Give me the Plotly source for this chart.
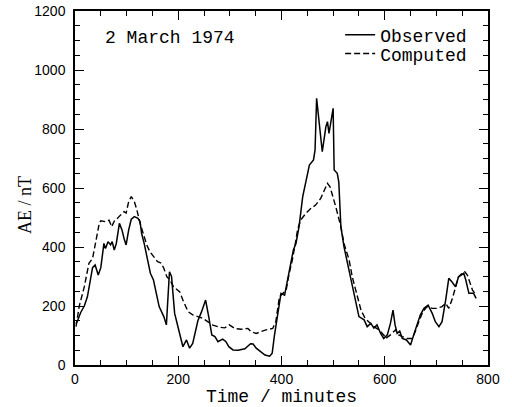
import plotly.graph_objects as go

# Observed AE index (nT) against time (minutes), 2 March 1974
t_obs = [2, 5, 11, 18, 24, 30, 34, 39, 45, 50, 56, 59, 64, 69, 72, 76, 80, 86, 91, 95,
         99, 104, 109, 115, 122, 126, 129, 134, 141, 146, 152, 159, 163, 172, 177, 183,
         187, 193, 199, 203, 209, 216, 222, 228, 238, 245, 253, 259, 265, 271, 277, 286,
         292, 298, 306, 316, 329, 340, 345, 351, 360, 368, 377, 382, 386, 391, 396, 399,
         406, 412, 418, 423, 428, 434, 441, 454, 462, 465, 468, 473, 479, 486, 489, 492,
         496, 500, 502, 508, 511, 515, 521, 525, 531, 537, 544, 550, 560, 566, 573, 579,
         585, 592, 598, 605, 611, 616, 620, 624, 629, 634, 642, 650, 656, 663, 669, 676,
         684, 692, 698, 705, 711, 718, 724, 730, 737, 743, 753, 757, 763, 772, 777]
ae_obs = [140, 150, 178, 200, 231, 288, 330, 339, 305, 330, 412, 395, 418, 407, 418, 390,
          412, 480, 458, 429, 407, 458, 494, 503, 497, 486, 446, 412, 356, 311, 288, 231,
          198, 164, 136, 316, 300, 175, 130, 96, 62, 85, 57, 73, 150, 180, 220, 164, 102,
          96, 79, 88, 80, 62, 51, 50, 55, 72, 71, 57, 46, 34, 30, 40, 96, 153, 220, 243,
          237, 288, 345, 390, 412, 469, 570, 678, 695, 729, 904, 831, 723, 808, 825, 785,
          830, 870, 661, 650, 620, 469, 401, 367, 322, 277, 209, 164, 153, 130, 141, 125,
          136, 107, 90, 102, 141, 186, 136, 107, 115, 90, 85, 68, 102, 136, 170, 192, 203,
          175, 147, 130, 147, 220, 294, 282, 265, 299, 311, 288, 243, 243, 226]

# Computed AE index (nT)
t_comp = [2, 8, 18, 27, 34, 40, 47, 50, 59, 66, 71, 77, 82, 88, 95, 99, 104, 109, 115,
          120, 126, 133, 139, 145, 154, 160, 167, 172, 178, 184, 191, 200, 203, 209, 219,
          228, 238, 248, 257, 267, 280, 290, 299, 309, 322, 335, 341, 351, 360, 370, 383,
          389, 396, 402, 409, 415, 421, 428, 431, 437, 447, 457, 466, 476, 483, 489, 494,
          499, 505, 510, 515, 521, 531, 537, 547, 554, 562, 569, 579, 589, 598, 602, 611,
          621, 627, 634, 643, 653, 659, 666, 674, 682, 692, 701, 711, 718, 724, 730, 737,
          743, 750, 755, 760, 765, 770, 777]
ae_comp = [130, 198, 265, 345, 361, 412, 480, 489, 486, 491, 469, 491, 497, 508, 520, 515,
           554, 571, 554, 525, 480, 441, 407, 384, 361, 350, 345, 328, 299, 288, 265, 254,
           248, 220, 181, 170, 164, 158, 147, 135, 128, 126, 136, 124, 121, 124, 113, 107,
           113, 119, 124, 147, 231, 243, 254, 311, 356, 424, 458, 491, 514, 531, 542, 565,
           593, 616, 604, 576, 537, 503, 469, 412, 356, 299, 231, 186, 158, 147, 130, 119,
           102, 90, 102, 119, 102, 96, 90, 90, 113, 147, 181, 198, 192, 192, 198, 209, 192,
           220, 265, 299, 311, 316, 305, 277, 254, 237]

mono = "Liberation Mono, Courier New, monospace"
sans = "Liberation Sans, Arial, sans-serif"
serif = "Liberation Serif, Times New Roman, serif"

fig = go.Figure()
fig.add_trace(go.Scatter(x=t_obs, y=ae_obs, mode="lines", name="Observed",
                         legend="legend", line=dict(color="black", width=1.5)))
fig.add_trace(go.Scatter(x=t_comp, y=ae_comp, mode="lines", name="Computed",
                         legend="legend2", line=dict(color="black", width=1.4, dash="6px,3px")))

axis_common = dict(
    showline=True, linecolor="black", linewidth=1.5, mirror="ticks",
    ticks="inside", ticklen=9, tickwidth=1.3, tickcolor="black",
    showgrid=False, zeroline=False, automargin=False,
    tickfont=dict(family=sans, size=14, color="black"),
)
minor_ticks = dict(dtick=50, ticks="inside", ticklen=5, tickwidth=1.1, tickcolor="black")

fig.update_xaxes(range=[0, 800], tick0=0, dtick=200, minor=minor_ticks,
                 title=dict(text="Time / minutes", font=dict(family=mono, size=18, color="black"),
                            standoff=0),
                 **axis_common)
fig.update_yaxes(range=[0, 1200], tick0=0, dtick=200, minor=minor_ticks,
                 ticklabelstandoff=5, **axis_common)

# y-axis title placed as rotated text
fig.add_annotation(text="AE / nT", xref="paper", yref="paper", x=-0.121, y=0.452,
                   xanchor="center", yanchor="middle", textangle=-90, showarrow=False,
                   font=dict(family=serif, size=18, color="black"))

fig.add_annotation(text="2 March 1974", xref="paper", yref="paper", x=0.068, y=0.925,
                   xanchor="left", yanchor="middle", showarrow=False,
                   font=dict(family=mono, size=18, color="black"))

legend_style = dict(xanchor="left", yanchor="middle", bgcolor="rgba(0,0,0,0)",
                    borderwidth=0, font=dict(family=mono, size=18, color="black"))

fig.update_layout(
    width=512, height=407,
    margin=dict(l=75, r=24, t=11, b=42),
    paper_bgcolor="white", plot_bgcolor="white",
    legend=dict(x=0.642, y=0.932, **legend_style),
    legend2=dict(x=0.642, y=0.879, **legend_style),
    showlegend=True,
)

fig.write_html("out.html")
